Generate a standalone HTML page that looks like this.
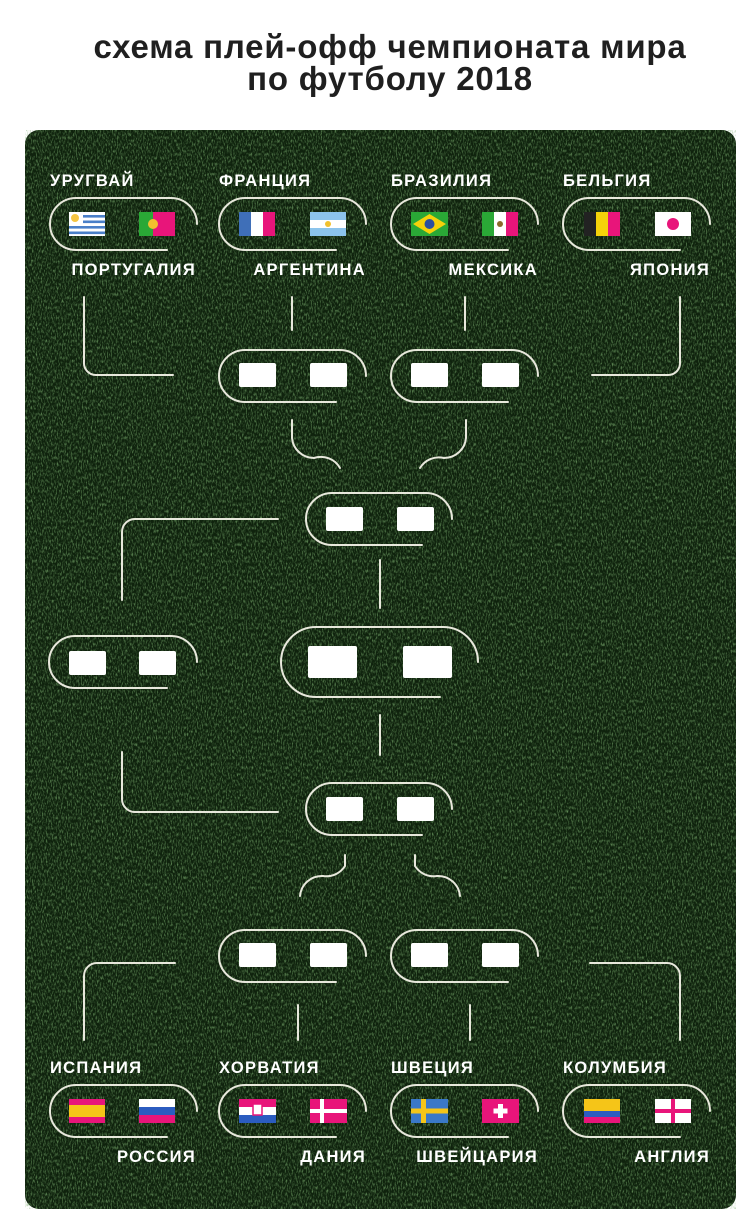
<!DOCTYPE html>
<html><head><meta charset="utf-8"><style>
html,body{margin:0;padding:0;background:#fff;}
body{width:750px;height:1218px;position:relative;overflow:hidden;font-family:"Liberation Sans",sans-serif;}
.title{position:absolute;left:40px;width:700px;top:31px;text-align:center;font-weight:bold;font-size:33px;line-height:32px;color:#1f1f1f;letter-spacing:0.8px;}
</style></head><body>
<div class="title">схема плей-офф чемпионата мира<br>по футболу 2018</div>
<svg style="position:absolute;left:0;top:0" width="750" height="1218" xmlns="http://www.w3.org/2000/svg">
<defs>
<filter id="n" x="0" y="0" width="100%" height="100%">
<feTurbulence type="fractalNoise" baseFrequency="0.8 0.3" numOctaves="2" seed="3"/>
<feColorMatrix values="0 0 0 0 0.2  0 0 0 0 0.42  0 0 0 0 0.16  0 0 0 2 -0.9"/>
</filter>
</defs>
<rect x="25" y="130" width="711" height="1079" rx="14" fill="#0f220d"/>
<rect x="25" y="130" width="711" height="1079" rx="14" filter="url(#n)" opacity="0.9"/>
<g fill="none" stroke="#e8e8dc" stroke-width="2" stroke-linecap="round">
<path d="M167 250 H76 A26 26 0 0 1 76 198 H171 A26 26 0 0 1 197 224"/>
<path d="M336 250 H245 A26 26 0 0 1 245 198 H340 A26 26 0 0 1 366 224"/>
<path d="M508 250 H417 A26 26 0 0 1 417 198 H512 A26 26 0 0 1 538 224"/>
<path d="M680 250 H589 A26 26 0 0 1 589 198 H684 A26 26 0 0 1 710 224"/>
<path d="M336 402 H245 A26 26 0 0 1 245 350 H340 A26 26 0 0 1 366 376"/>
<path d="M508 402 H417 A26 26 0 0 1 417 350 H512 A26 26 0 0 1 538 376"/>
<path d="M422 545 H332 A26 26 0 0 1 332 493 H426 A26 26 0 0 1 452 519"/>
<path d="M167 688 H75 A26 26 0 0 1 75 636 H171 A26 26 0 0 1 197 662"/>
<path d="M440 697 H316 A35 35 0 0 1 316 627 H443 A35 35 0 0 1 478 662"/>
<path d="M422 835 H332 A26 26 0 0 1 332 783 H426 A26 26 0 0 1 452 809"/>
<path d="M336 982 H245 A26 26 0 0 1 245 930 H340 A26 26 0 0 1 366 956"/>
<path d="M508 982 H417 A26 26 0 0 1 417 930 H512 A26 26 0 0 1 538 956"/>
<path d="M167 1137 H76 A26 26 0 0 1 76 1085 H171 A26 26 0 0 1 197 1111"/>
<path d="M336 1137 H245 A26 26 0 0 1 245 1085 H340 A26 26 0 0 1 366 1111"/>
<path d="M508 1137 H417 A26 26 0 0 1 417 1085 H512 A26 26 0 0 1 538 1111"/>
<path d="M680 1137 H589 A26 26 0 0 1 589 1085 H684 A26 26 0 0 1 710 1111"/>
<path d="M84 297 V362 A12 12 0 0 0 96 375 H173"/>
<path d="M292 297 V330"/><path d="M465 297 V330"/>
<path d="M680 297 V362 A12 12 0 0 1 668 375 H592"/>
<path d="M292 420 V438 A22 22 0 0 0 314 458 A22 22 0 0 1 340 468"/>
<path d="M466 420 V438 A22 22 0 0 1 444 458 A22 22 0 0 0 420 468"/>
<path d="M278 519 H135 A13 13 0 0 0 122 532 V600"/>
<path d="M380 560 V608"/><path d="M380 715 V755"/>
<path d="M122 752 V799 A13 13 0 0 0 135 812 H278"/>
<path d="M345 855 V866 A22 22 0 0 1 323 876 A22 22 0 0 0 300 896"/>
<path d="M415 855 V866 A22 22 0 0 0 437 876 A22 22 0 0 1 460 896"/>
<path d="M175 963 H97 A13 13 0 0 0 84 976 V1040"/>
<path d="M298 1005 V1040"/><path d="M470 1005 V1040"/>
<path d="M590 963 H667 A13 13 0 0 1 680 976 V1040"/>
</g>
<g fill="#fff">
<rect x="239" y="363" width="37" height="24" rx="2"/><rect x="310" y="363" width="37" height="24" rx="2"/>
<rect x="411" y="363" width="37" height="24" rx="2"/><rect x="482" y="363" width="37" height="24" rx="2"/>
<rect x="326" y="507" width="37" height="24" rx="2"/><rect x="397" y="507" width="37" height="24" rx="2"/>
<rect x="69" y="651" width="37" height="24" rx="2"/><rect x="139" y="651" width="37" height="24" rx="2"/>
<rect x="308" y="646" width="49" height="32" rx="2"/><rect x="403" y="646" width="49" height="32" rx="2"/>
<rect x="326" y="797" width="37" height="24" rx="2"/><rect x="397" y="797" width="37" height="24" rx="2"/>
<rect x="239" y="943" width="37" height="24" rx="2"/><rect x="310" y="943" width="37" height="24" rx="2"/>
<rect x="411" y="943" width="37" height="24" rx="2"/><rect x="482" y="943" width="37" height="24" rx="2"/>
</g>
<g>
<rect x="69" y="212" width="36" height="24" fill="#fff"/>
<g fill="#4a7fc8"><rect x="69" y="215" width="36" height="2.6"/><rect x="69" y="220.5" width="36" height="2.6"/><rect x="69" y="226" width="36" height="2.6"/><rect x="69" y="231.5" width="36" height="2.6"/></g>
<rect x="69" y="212" width="14" height="12" fill="#fff"/><circle cx="75" cy="218" r="4" fill="#f5c542"/>
<rect x="139" y="212" width="14" height="24" fill="#2aa836"/><rect x="153" y="212" width="22" height="24" fill="#e8157a"/><circle cx="153" cy="224" r="5" fill="#f2c12e"/>
<rect x="239" y="212" width="12" height="24" fill="#3f6fb8"/><rect x="251" y="212" width="12" height="24" fill="#fff"/><rect x="263" y="212" width="12" height="24" fill="#e8157a"/>
<rect x="310" y="212" width="36" height="24" fill="#8cc4ec"/><rect x="310" y="220" width="36" height="8" fill="#fff"/><circle cx="328" cy="224" r="3" fill="#f2c12e"/>
<rect x="411" y="212" width="37" height="24" fill="#2aa836"/><polygon points="429.5,214 446,224 429.5,234 413,224" fill="#f5d20a"/><circle cx="429.5" cy="224" r="5" fill="#2b4fa0"/>
<rect x="482" y="212" width="12" height="24" fill="#2aa836"/><rect x="494" y="212" width="12" height="24" fill="#fff"/><rect x="506" y="212" width="12" height="24" fill="#e8157a"/><circle cx="500" cy="224" r="3" fill="#8a6a2a"/>
<rect x="584" y="212" width="12" height="24" fill="#222"/><rect x="596" y="212" width="12" height="24" fill="#f5d20a"/><rect x="608" y="212" width="12" height="24" fill="#e8157a"/>
<rect x="655" y="212" width="36" height="24" fill="#fff"/><circle cx="673" cy="224" r="6" fill="#e8157a"/>
</g>
<g>
<rect x="69" y="1099" width="36" height="24" fill="#e8157a"/><rect x="69" y="1105" width="36" height="12" fill="#f5c518"/>
<rect x="139" y="1099" width="36" height="8" fill="#fff"/><rect x="139" y="1107" width="36" height="8" fill="#2b5cc0"/><rect x="139" y="1115" width="36" height="8" fill="#e8157a"/>
<rect x="239" y="1099" width="37" height="8" fill="#e8157a"/><rect x="239" y="1107" width="37" height="8" fill="#fff"/><rect x="239" y="1115" width="37" height="8" fill="#2b5cc0"/><rect x="253" y="1104" width="9" height="11" fill="#fff" stroke="#e8157a" stroke-width="1.5"/>
<rect x="310" y="1099" width="37" height="24" fill="#e8157a"/><rect x="320" y="1099" width="4" height="24" fill="#fff"/><rect x="310" y="1109" width="37" height="4" fill="#fff"/>
<rect x="411" y="1099" width="37" height="24" fill="#3a78c8"/><rect x="421" y="1099" width="5" height="24" fill="#f5c518"/><rect x="411" y="1108.5" width="37" height="5" fill="#f5c518"/>
<rect x="482" y="1099" width="37" height="24" fill="#e8157a"/><rect x="498" y="1104" width="5" height="14" fill="#fff"/><rect x="493.5" y="1108.5" width="14" height="5" fill="#fff"/>
<rect x="584" y="1099" width="36" height="12" fill="#f5c518"/><rect x="584" y="1111" width="36" height="6" fill="#2b5cc0"/><rect x="584" y="1117" width="36" height="6" fill="#e8157a"/>
<rect x="655" y="1099" width="36" height="24" fill="#fff"/><rect x="671" y="1099" width="4" height="24" fill="#e8157a"/><rect x="655" y="1109" width="36" height="4" fill="#e8157a"/>
</g>
<g fill="#fff" font-family="Liberation Sans, sans-serif" font-size="16.5" font-weight="bold" letter-spacing="1.3">
<text x="50" y="186">УРУГВАЙ</text><text x="219" y="186">ФРАНЦИЯ</text><text x="391" y="186">БРАЗИЛИЯ</text><text x="563" y="186">БЕЛЬГИЯ</text>
<g text-anchor="end"><text x="196" y="275">ПОРТУГАЛИЯ</text><text x="366" y="275">АРГЕНТИНА</text><text x="538" y="275">МЕКСИКА</text><text x="710" y="275">ЯПОНИЯ</text></g>
<text x="50" y="1073">ИСПАНИЯ</text><text x="219" y="1073">ХОРВАТИЯ</text><text x="391" y="1073">ШВЕЦИЯ</text><text x="563" y="1073">КОЛУМБИЯ</text>
<g text-anchor="end"><text x="196" y="1162">РОССИЯ</text><text x="366" y="1162">ДАНИЯ</text><text x="538" y="1162">ШВЕЙЦАРИЯ</text><text x="710" y="1162">АНГЛИЯ</text></g>
</g>
</svg>
</body></html>
